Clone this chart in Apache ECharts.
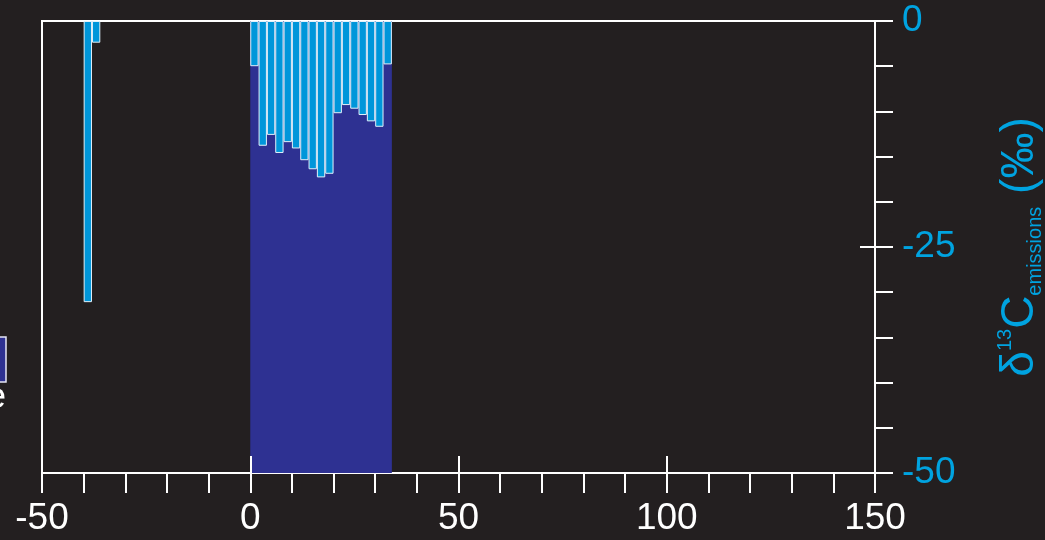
<!DOCTYPE html>
<html>
<head>
<meta charset="utf-8">
<script src="https://cdn.jsdelivr.net/npm/echarts@6/dist/echarts.min.js"></script>
<style>
html,body{margin:0;padding:0;background:#231f20;}
#chart{width:1045px;height:540px;}
</style>
</head>
<body>
<div id="chart"></div>
<script>
// ---- data ----
const xRange = [-50, 150];
const yRange = [-50, 0];
const binCenters = [-39, -37, 1, 3, 5, 7, 9, 11, 13, 15, 17, 19, 21, 23, 25, 27, 29, 31, 33];
const deltaEmissions = [-31.1, -2.4, -5.0, -13.8, -12.6, -14.6, -13.4, -14.1, -15.4, -16.4, -17.3, -16.9, -10.2, -9.3, -9.7, -10.4, -11.1, -11.7, -4.8];
const shadedSpan = [0, 34];
const legendFragment = 'e';
const binWidth = 2;

const FONT = "'Liberation Sans', Arial, sans-serif";
const WHITE = '#ffffff';
const CYAN = '#00a3e0';
const BAR = '#0096da';
const NAVY = '#2e3192';

const grid = {left: 42, right: 170, top: 21, bottom: 67};
const plotW = 1045 - grid.left - grid.right;
const pxPerX = plotW / (xRange[1] - xRange[0]);

const chart = echarts.init(document.getElementById('chart'), null, {renderer: 'canvas'});
chart.setOption({
  backgroundColor: '#231f20',
  animation: false,
  grid: Object.assign({show: true, borderColor: WHITE, borderWidth: 2, backgroundColor: 'transparent', containLabel: false, outerBoundsMode: 'none'}, grid),
  xAxis: [
    {
      type: 'value', min: xRange[0], max: xRange[1], interval: 10, position: 'bottom',
      axisLine: {show: true, onZero: false, lineStyle: {color: WHITE, width: 2}},
      axisTick: {show: true, inside: false, length: 20, lineStyle: {color: WHITE, width: 2}},
      axisLabel: {show: false}, splitLine: {show: false}
    },
    {
      type: 'value', min: xRange[0], max: xRange[1], interval: 50, position: 'bottom',
      axisLine: {show: false, onZero: false},
      axisTick: {show: true, inside: true, length: 17, lineStyle: {color: WHITE, width: 2}},
      axisLabel: {show: true, color: WHITE, fontSize: 37, fontFamily: FONT, margin: 27},
      splitLine: {show: false}, z: 5
    }
  ],
  yAxis: [
    {
      type: 'value', min: yRange[0], max: yRange[1], interval: 5, position: 'right',
      axisLine: {show: true, onZero: false, lineStyle: {color: WHITE, width: 2}},
      axisTick: {show: true, inside: false, length: 18, lineStyle: {color: WHITE, width: 2}},
      axisLabel: {show: false}, splitLine: {show: false}
    },
    {
      type: 'value', min: yRange[0], max: yRange[1], interval: 25, position: 'right',
      axisLine: {show: false, onZero: false},
      axisTick: {show: true, inside: true, length: 15, lineStyle: {color: WHITE, width: 2}},
      axisLabel: {show: true, color: CYAN, fontSize: 37, fontFamily: FONT, margin: 27},
      splitLine: {show: false},
      name: '{big|δ}{sup|13}{big|C}{sub|emissions}{big| (‰)}',
      nameLocation: 'middle', nameRotate: 90, nameGap: 120,
      nameTextStyle: {
        color: CYAN, fontFamily: FONT,
        rich: {
          big: {fontSize: 46, color: CYAN, fontFamily: FONT, lineHeight: 50},
          sup: {fontSize: 20, color: CYAN, fontFamily: FONT, verticalAlign: 'top', lineHeight: 50, padding: [0, 0, 24, 0]},
          sub: {fontSize: 20, color: CYAN, fontFamily: FONT, verticalAlign: 'bottom', lineHeight: 50, padding: [2, 0, 0, 0]}
        }
      }
    }
  ],
  series: [
    {
      type: 'line', xAxisIndex: 0, yAxisIndex: 0, data: [], silent: true, z: 1,
      markArea: {
        silent: true,
        itemStyle: {color: NAVY, opacity: 1},
        data: [[{xAxis: shadedSpan[0]}, {xAxis: shadedSpan[1]}]]
      }
    },
    {
      type: 'bar', xAxisIndex: 0, yAxisIndex: 0, z: 3,
      barWidth: pxPerX * binWidth,
      itemStyle: {color: BAR, borderColor: '#e2f1fa', borderWidth: 1},
      data: binCenters.map((x, i) => [x, deltaEmissions[i]])
    }
  ],
  graphic: [
    {type: 'rect', shape: {x: -40, y: 337, width: 46, height: 45}, style: {fill: NAVY, stroke: '#e6e6f5', lineWidth: 1.5}, z: 10},
    {type: 'text', x: 6, y: 398, style: {text: legendFragment, fill: WHITE, font: '37px ' + FONT, align: 'right', verticalAlign: 'middle'}, z: 10}
  ]
});
</script>
</body>
</html>
